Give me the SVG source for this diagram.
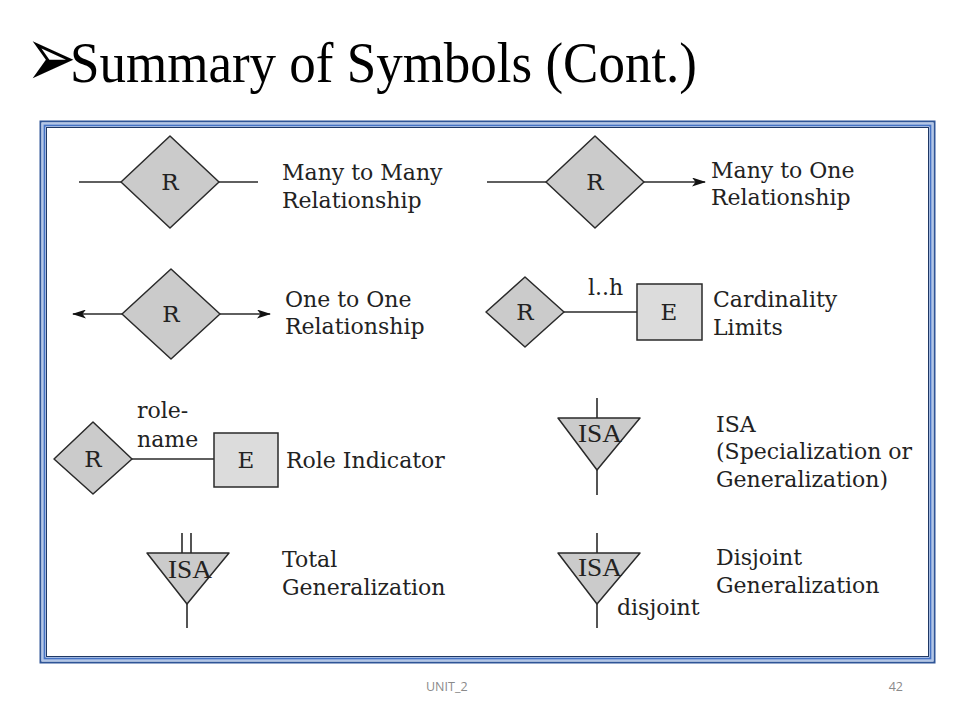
<svg xmlns="http://www.w3.org/2000/svg" width="960" height="720" viewBox="0 0 960 720">
<defs>
<style>
.lbl{font-family:"DejaVu Serif","Liberation Serif",serif;font-size:22px;fill:#222}
.sym{font-family:"DejaVu Serif","Liberation Serif",serif;font-size:23px;fill:#222;text-anchor:middle}
.isa{font-family:"Liberation Serif","DejaVu Serif",serif;font-size:25px;fill:#222;text-anchor:middle}
.dia{fill:#cbcbcb;stroke:#2a2a2a;stroke-width:1.5;stroke-linejoin:round}
.box{fill:#dcdcdc;stroke:#2a2a2a;stroke-width:1.5}
.ln{stroke:#2a2a2a;stroke-width:1.6;fill:none}
.foot{font-family:"Open Sans","Liberation Sans",sans-serif;font-size:12.5px;fill:#8a8a8a}
</style>
<marker id="arr" viewBox="0 0 14 9" refX="13" refY="4.5" markerWidth="14" markerHeight="9" markerUnits="userSpaceOnUse" orient="auto">
<path d="M0,0 L14,4.5 L0,9 L3.5,4.5 z" fill="#111"/>
</marker>
</defs>
<rect width="960" height="720" fill="#fff"/>

<g id="title">
<text transform="translate(26,86) scale(1,1.4)" x="0" y="0" font-family="DejaVu Sans,sans-serif" font-size="60" fill="#000">➢</text>
<text x="70" y="82" font-family="Liberation Serif,serif" font-size="57" textLength="627" lengthAdjust="spacingAndGlyphs" fill="#000">Summary of Symbols (Cont.)</text>
</g>

<g id="frame" fill="none">
<rect x="40.5" y="121.5" width="894" height="541" stroke="#2f5597" stroke-width="2"/>
<rect x="42.5" y="123.5" width="890" height="537" stroke="#b4c7e7" stroke-width="2"/>
<rect x="44.5" y="125.5" width="886" height="533" stroke="#4472c4" stroke-width="2"/>
<rect x="46.5" y="127.5" width="882" height="529" stroke="#1f3864" stroke-width="1"/>
</g>

<g id="connectors">
<line class="ln" x1="79" y1="182" x2="121" y2="182"/>
<line class="ln" x1="219" y1="182" x2="258" y2="182"/>
<line class="ln" x1="487" y1="182" x2="546" y2="182"/>
<line class="ln" x1="644" y1="182" x2="705" y2="182" marker-end="url(#arr)"/>
<line class="ln" x1="122" y1="314" x2="73" y2="314" marker-end="url(#arr)"/>
<line class="ln" x1="220" y1="314" x2="270" y2="314" marker-end="url(#arr)"/>
<line class="ln" x1="564" y1="312" x2="637" y2="312"/>
<line class="ln" x1="132" y1="459" x2="214" y2="459"/>
<line class="ln" x1="597" y1="398" x2="597" y2="418"/>
<line class="ln" x1="597" y1="470" x2="597" y2="495"/>
<line class="ln" x1="182" y1="533" x2="182" y2="553"/>
<line class="ln" x1="191" y1="533" x2="191" y2="553"/>
<line class="ln" x1="187" y1="604" x2="187" y2="628"/>
<line class="ln" x1="597" y1="533" x2="597" y2="553"/>
<line class="ln" x1="597" y1="604" x2="597" y2="628"/>
</g>

<g id="many-to-many">
<polygon class="dia" points="121,182 170,136 219,182 170,228"/>
<text class="sym" x="170" y="190">R</text>
<text class="lbl" x="282" y="180">Many to Many</text>
<text class="lbl" x="282" y="208">Relationship</text>
</g>

<g id="many-to-one">
<polygon class="dia" points="546,182 595,136 644,182 595,228"/>
<text class="sym" x="595" y="190">R</text>
<text class="lbl" x="711" y="178">Many to One</text>
<text class="lbl" x="711" y="205">Relationship</text>
</g>

<g id="one-to-one">
<polygon class="dia" points="122,314 171,269 220,314 171,359"/>
<text class="sym" x="171" y="322">R</text>
<text class="lbl" x="285" y="307">One to One</text>
<text class="lbl" x="285" y="334">Relationship</text>
</g>

<g id="cardinality">
<polygon class="dia" points="486,312 525,277 564,312 525,347"/>
<text class="sym" x="525" y="320">R</text>
<text class="lbl" x="588" y="295">l..h</text>
<rect class="box" x="637" y="284" width="65" height="56"/>
<text class="sym" x="669" y="320">E</text>
<text class="lbl" x="713" y="307">Cardinality</text>
<text class="lbl" x="713" y="335">Limits</text>
</g>

<g id="role-indicator">
<polygon class="dia" points="54,459 93,422 132,459 93,494"/>
<text class="sym" x="93" y="467">R</text>
<text class="lbl" x="137" y="418">role-</text>
<text class="lbl" x="137" y="447">name</text>
<rect class="box" x="214" y="433" width="64" height="54"/>
<text class="sym" x="246" y="468">E</text>
<text class="lbl" x="286" y="468">Role Indicator</text>
</g>

<g id="isa">
<polygon class="dia" points="558,418 640,418 597,470"/>
<text class="isa" x="600" y="442" textLength="44" lengthAdjust="spacingAndGlyphs">ISA</text>
<text class="lbl" x="716" y="432">ISA</text>
<text class="lbl" x="716" y="459">(Specialization or</text>
<text class="lbl" x="716" y="487">Generalization)</text>
</g>

<g id="total-generalization">
<polygon class="dia" points="147,553 229,553 187,604"/>
<text class="isa" x="190" y="578" textLength="44" lengthAdjust="spacingAndGlyphs">ISA</text>
<text class="lbl" x="282" y="567">Total</text>
<text class="lbl" x="282" y="595">Generalization</text>
</g>

<g id="disjoint-generalization">
<polygon class="dia" points="558,553 640,553 597,604"/>
<text class="isa" x="600" y="576" textLength="44" lengthAdjust="spacingAndGlyphs">ISA</text>
<text class="lbl" x="617" y="615">disjoint</text>
<text class="lbl" x="716" y="565">Disjoint</text>
<text class="lbl" x="716" y="593">Generalization</text>
</g>

<g id="footer">
<text class="foot" x="426" y="691">UNIT_2</text>
<text class="foot" x="903" y="691" text-anchor="end">42</text>
</g>
</svg>
